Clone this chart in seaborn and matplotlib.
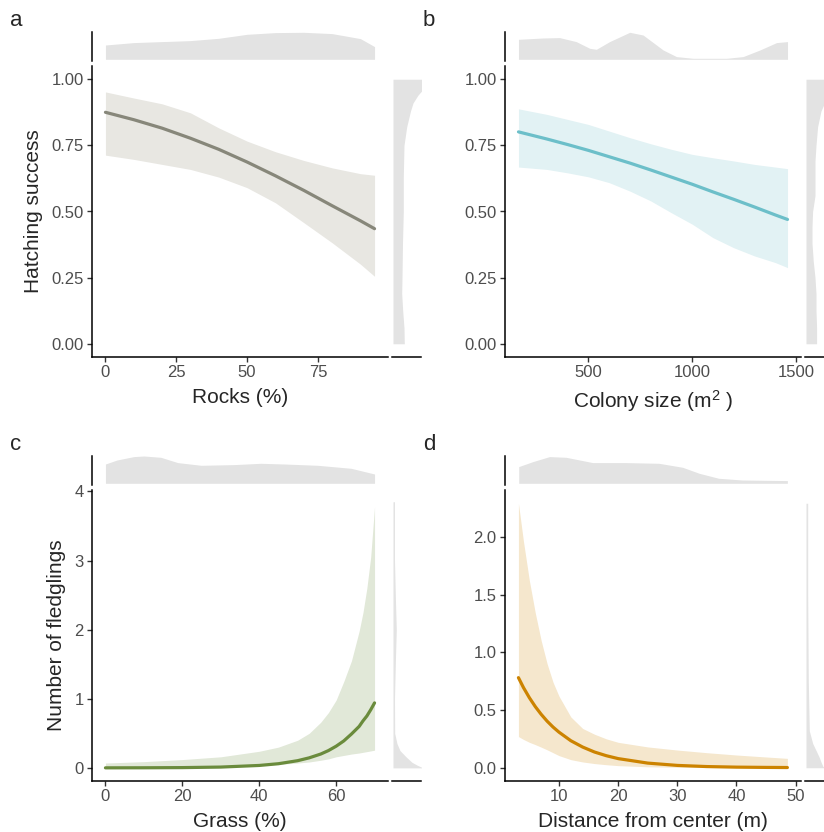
"""
Hatching success and number of fledglings vs. nest habitat variables,
fitted curves with 95% bands and marginal densities.
"""
import numpy as np
import pandas as pd
import matplotlib
matplotlib.use("Agg")
import matplotlib.pyplot as plt
import seaborn as sns

# ---- panel a: hatching success ~ rocks (%)
rocks = [0, 10, 20, 30, 40, 50, 60, 70, 80, 90, 95]
rocks_fit = [0.875, 0.847, 0.815, 0.777, 0.735, 0.687, 0.635, 0.580, 0.522, 0.465, 0.435]
rocks_hi = [0.952, 0.929, 0.907, 0.873, 0.816, 0.766, 0.726, 0.693, 0.665, 0.643, 0.637]
rocks_lo = [0.713, 0.697, 0.678, 0.659, 0.630, 0.590, 0.533, 0.458, 0.382, 0.301, 0.255]

# ---- panel b: hatching success ~ colony size (m2)
colony = [163, 300, 400, 500, 600, 700, 800, 900, 1000, 1100, 1200, 1300, 1400, 1459]
colony_fit = [0.801, 0.774, 0.753, 0.731, 0.707, 0.683, 0.657, 0.630, 0.603, 0.574, 0.546, 0.517, 0.487, 0.470]
colony_hi = [0.888, 0.867, 0.848, 0.829, 0.804, 0.779, 0.756, 0.735, 0.716, 0.703, 0.691, 0.678, 0.668, 0.662]
colony_lo = [0.668, 0.659, 0.646, 0.631, 0.609, 0.577, 0.540, 0.495, 0.452, 0.401, 0.363, 0.332, 0.307, 0.288]

# ---- panel c: fledglings ~ grass (%)
grass = [0, 10, 20, 30, 40, 45, 50, 53, 56, 58, 60, 62, 64, 66, 67, 68, 69, 70]
grass_fit = [0.0004, 0.0013, 0.0038, 0.0115, 0.035, 0.060, 0.104, 0.145, 0.20, 0.25, 0.313, 0.39,
             0.49, 0.60, 0.68, 0.75, 0.84, 0.94]
grass_hi = [0.07, 0.09, 0.12, 0.16, 0.24, 0.30, 0.40, 0.50, 0.66, 0.80, 0.98, 1.25, 1.55, 1.98,
            2.25, 2.60, 3.05, 3.78]
grass_lo = [0.0, 0.001, 0.004, 0.015, 0.035, 0.05, 0.07, 0.085, 0.11, 0.13, 0.16, 0.18, 0.20, 0.215,
            0.225, 0.235, 0.245, 0.256]

# ---- panel d: fledglings ~ distance from center (m)
dist = [3.15, 4, 5, 6, 7, 8, 9, 10, 12, 14, 16, 18, 20, 25, 30, 35, 40, 45, 48.6]
dist_fit = [0.78, 0.694, 0.606, 0.529, 0.462, 0.403, 0.352, 0.308, 0.234, 0.179, 0.136, 0.104, 0.079,
            0.040, 0.020, 0.010, 0.005, 0.0027, 0.0016]
dist_hi = [2.29, 1.96, 1.62, 1.34, 1.10, 0.90, 0.74, 0.62, 0.44, 0.34, 0.29, 0.25, 0.22, 0.18, 0.153,
           0.13, 0.11, 0.093, 0.081]
dist_lo = [0.27, 0.245, 0.22, 0.20, 0.178, 0.155, 0.13, 0.105, 0.07, 0.05, 0.036, 0.026, 0.018, 0.008,
           0.004, 0.002, 0.001, 0.0, 0.0]

top_a_x = [0, 10, 20, 30, 40, 50, 60, 70, 80, 90, 95]
top_a_h = [14.3, 16.7, 17.7, 18.7, 21, 25, 26.7, 27, 25.7, 20.7, 12.7]
top_b_x = [163, 280, 361, 441, 506, 538, 602, 699, 763, 860, 924, 1004, 1165, 1245, 1326, 1406, 1459]
top_b_h = [20, 21.3, 21.7, 17.7, 11, 10, 17.7, 27, 24.3, 9.3, 2.7, 1, 1, 2.7, 9.3, 16.7, 17.7]
top_c_x = [0, 3, 7.4, 10, 14.4, 18.8, 24.9, 33.5, 40.4, 46.5, 55.2, 63.9, 70]
top_c_h = [19.3, 23.3, 26.7, 27.3, 26, 20.7, 18, 18.7, 20, 19.3, 18, 15, 9.3]
top_d_x = [3.2, 5.6, 8.4, 11.2, 15.7, 21.3, 26.9, 30.9, 33.7, 37, 41, 48.6]
top_d_h = [16.7, 21.7, 26.7, 26, 20.7, 20.7, 20, 16, 10, 5, 3.3, 2.7]

side_a_y = [0, 0.06, 0.125, 0.19, 0.25, 0.38, 0.5, 0.63, 0.75, 0.82, 0.88, 0.91, 0.94, 0.97, 1.0]
side_a_w = [11.3, 11, 9.7, 8.7, 9, 9.5, 10.3, 10.3, 11, 13.7, 17.5, 20, 25, 32, 40]
side_b_y = [0, 0.06, 0.125, 0.19, 0.25, 0.31, 0.38, 0.44, 0.5, 0.56, 0.63, 0.69, 0.75, 0.82, 0.88, 0.94, 1.0]
side_b_w = [10.6, 10.6, 10, 10, 9, 7.3, 6, 6, 6.6, 9, 9, 9, 10, 11.6, 15, 22, 30]
side_c_y = [0, 0.04, 0.08, 0.12, 0.16, 0.25, 0.35, 0.5, 1.0, 1.6, 2.0, 2.4, 3.0, 3.85]
side_c_w = [30, 24, 19, 16, 13, 7, 4, 1.7, 1.5, 2.5, 3.3, 2.5, 1.5, 1.5]
side_d_y = [0, 0.01, 0.05, 0.095, 0.15, 0.21, 0.32, 0.75, 1.5, 2.29]
side_d_w = [20, 17, 15, 13, 10, 6.7, 3.3, 2.3, 1.7, 1.7]

sns.set_style("ticks")
plt.rcParams["font.family"] = ["Liberation Sans", "DejaVu Sans"]
plt.rcParams["mathtext.fontset"] = "custom"
plt.rcParams["mathtext.rm"] = "Liberation Sans"
plt.rcParams["mathtext.it"] = "Liberation Sans:italic"

W, H = 824, 832
fig = plt.figure(figsize=(W / 100, H / 100), dpi=100)


def box(l, t, r, b):
    return [l / W, 1 - b / H, (r - l) / W, (b - t) / H]


MARG = "#E3E3E3"

panels = [
    dict(tag="a", x=rocks, fit=rocks_fit, hi=rocks_hi, lo=rocks_lo, line="#87877A", band="#E8E7E2",
         xlim=(-4.75, 99.75), ylim=(-0.05, 1.05), xticks=[0, 25, 50, 75],
         yticks=[0, 0.25, 0.5, 0.75, 1.0], yfmt="{:.2f}", xlabel="Rocks (%)",
         ylabel="Hatching success", top=(top_a_x, top_a_h), side=(side_a_y, side_a_w),
         left=92, top_px=32, side_w=29),
    dict(tag="b", x=colony, fit=colony_fit, hi=colony_hi, lo=colony_lo, line="#6CBFC9", band="#E2F2F4",
         xlim=(98, 1524), ylim=(-0.05, 1.05), xticks=[500, 1000, 1500],
         yticks=[0, 0.25, 0.5, 0.75, 1.0], yfmt="{:.2f}", xlabel="Colony size (m$^2$ )",
         ylabel="", top=(top_b_x, top_b_h), side=(side_b_y, side_b_w),
         left=505, top_px=32, side_w=19),
    dict(tag="c", x=grass, fit=grass_fit, hi=grass_hi, lo=grass_lo, line="#6A8B3C", band="#E1E8D8",
         xlim=(-3.5, 73.5), ylim=(-0.19, 4.02), xticks=[0, 20, 40, 60],
         yticks=[0, 1, 2, 3, 4], yfmt="{:.0f}", xlabel="Grass (%)",
         ylabel="Number of fledglings", top=(top_c_x, top_c_h), side=(side_c_y, side_c_w),
         left=92, top_px=456, side_w=29),
    dict(tag="d", x=dist, fit=dist_fit, hi=dist_hi, lo=dist_lo, line="#CC8300", band="#F5E7CD",
         xlim=(0.88, 50.9), ylim=(-0.115, 2.405), xticks=[10, 20, 30, 40, 50],
         yticks=[0, 0.5, 1.0, 1.5, 2.0], yfmt="{:.1f}", xlabel="Distance from center (m)",
         ylabel="", top=(top_d_x, top_d_h), side=(side_d_y, side_d_w),
         left=505, top_px=456, side_w=19),
]

for p in panels:
    l = p["left"]
    t0 = p["top_px"]
    r = l + 296
    mt, mb = t0 + 34, t0 + 325  # main panel top / bottom

    # main panel
    ax = fig.add_axes(box(l, mt, r, mb))
    df = pd.DataFrame({"x": p["x"], "fit": p["fit"], "hi": p["hi"], "lo": p["lo"]})
    ax.fill_between(df["x"], df["lo"], df["hi"], color=p["band"], linewidth=0)
    sns.lineplot(data=df, x="x", y="fit", ax=ax, color=p["line"], linewidth=2.3)
    ax.set_xlim(*p["xlim"])
    ax.set_ylim(*p["ylim"])
    ax.set_xticks(p["xticks"])
    ax.set_yticks(p["yticks"])
    ax.set_yticklabels([p["yfmt"].format(v) for v in p["yticks"]])
    ax.set_xlabel(p["xlabel"], fontsize=15, labelpad=5.5)
    ax.set_ylabel(p["ylabel"], fontsize=15, labelpad=6)
    sns.despine(ax=ax)
    for s in ["left", "bottom"]:
        ax.spines[s].set_linewidth(1.1)
        ax.spines[s].set_color("black")
    ax.tick_params(length=3.5, width=1.0, color="#333333", labelcolor="#4D4D4D",
                   labelsize=12, pad=2.5)

    # top marginal density
    axt = fig.add_axes(box(l, t0, r, t0 + 29))
    tx, th = p["top"]
    axt.fill_between(tx, 0, th, color=MARG, linewidth=0)
    axt.set_xlim(*p["xlim"])
    axt.set_ylim(-1.7, 27.3)
    axt.set_xticks([])
    axt.set_yticks([])
    sns.despine(ax=axt, bottom=True)
    axt.spines["left"].set_linewidth(1.1)
    axt.spines["left"].set_color("black")

    # right marginal density
    sl = r + 4
    axr = fig.add_axes(box(sl, mt, sl + p["side_w"], mb))
    sy, sw = p["side"]
    axr.fill_betweenx(sy, 0, sw, color=MARG, linewidth=0)
    axr.set_ylim(*p["ylim"])
    axr.set_xlim(-1, p["side_w"] - 1)
    axr.set_xticks([])
    axr.set_yticks([])
    sns.despine(ax=axr, left=True)
    axr.spines["bottom"].set_linewidth(1.1)
    axr.spines["bottom"].set_color("black")

    # panel tag
    fig.text((l - 76) / W, 1 - (t0 - 12) / H, p["tag"], fontsize=16, ha="center", va="center")

fig.savefig("out.png", dpi=100)
